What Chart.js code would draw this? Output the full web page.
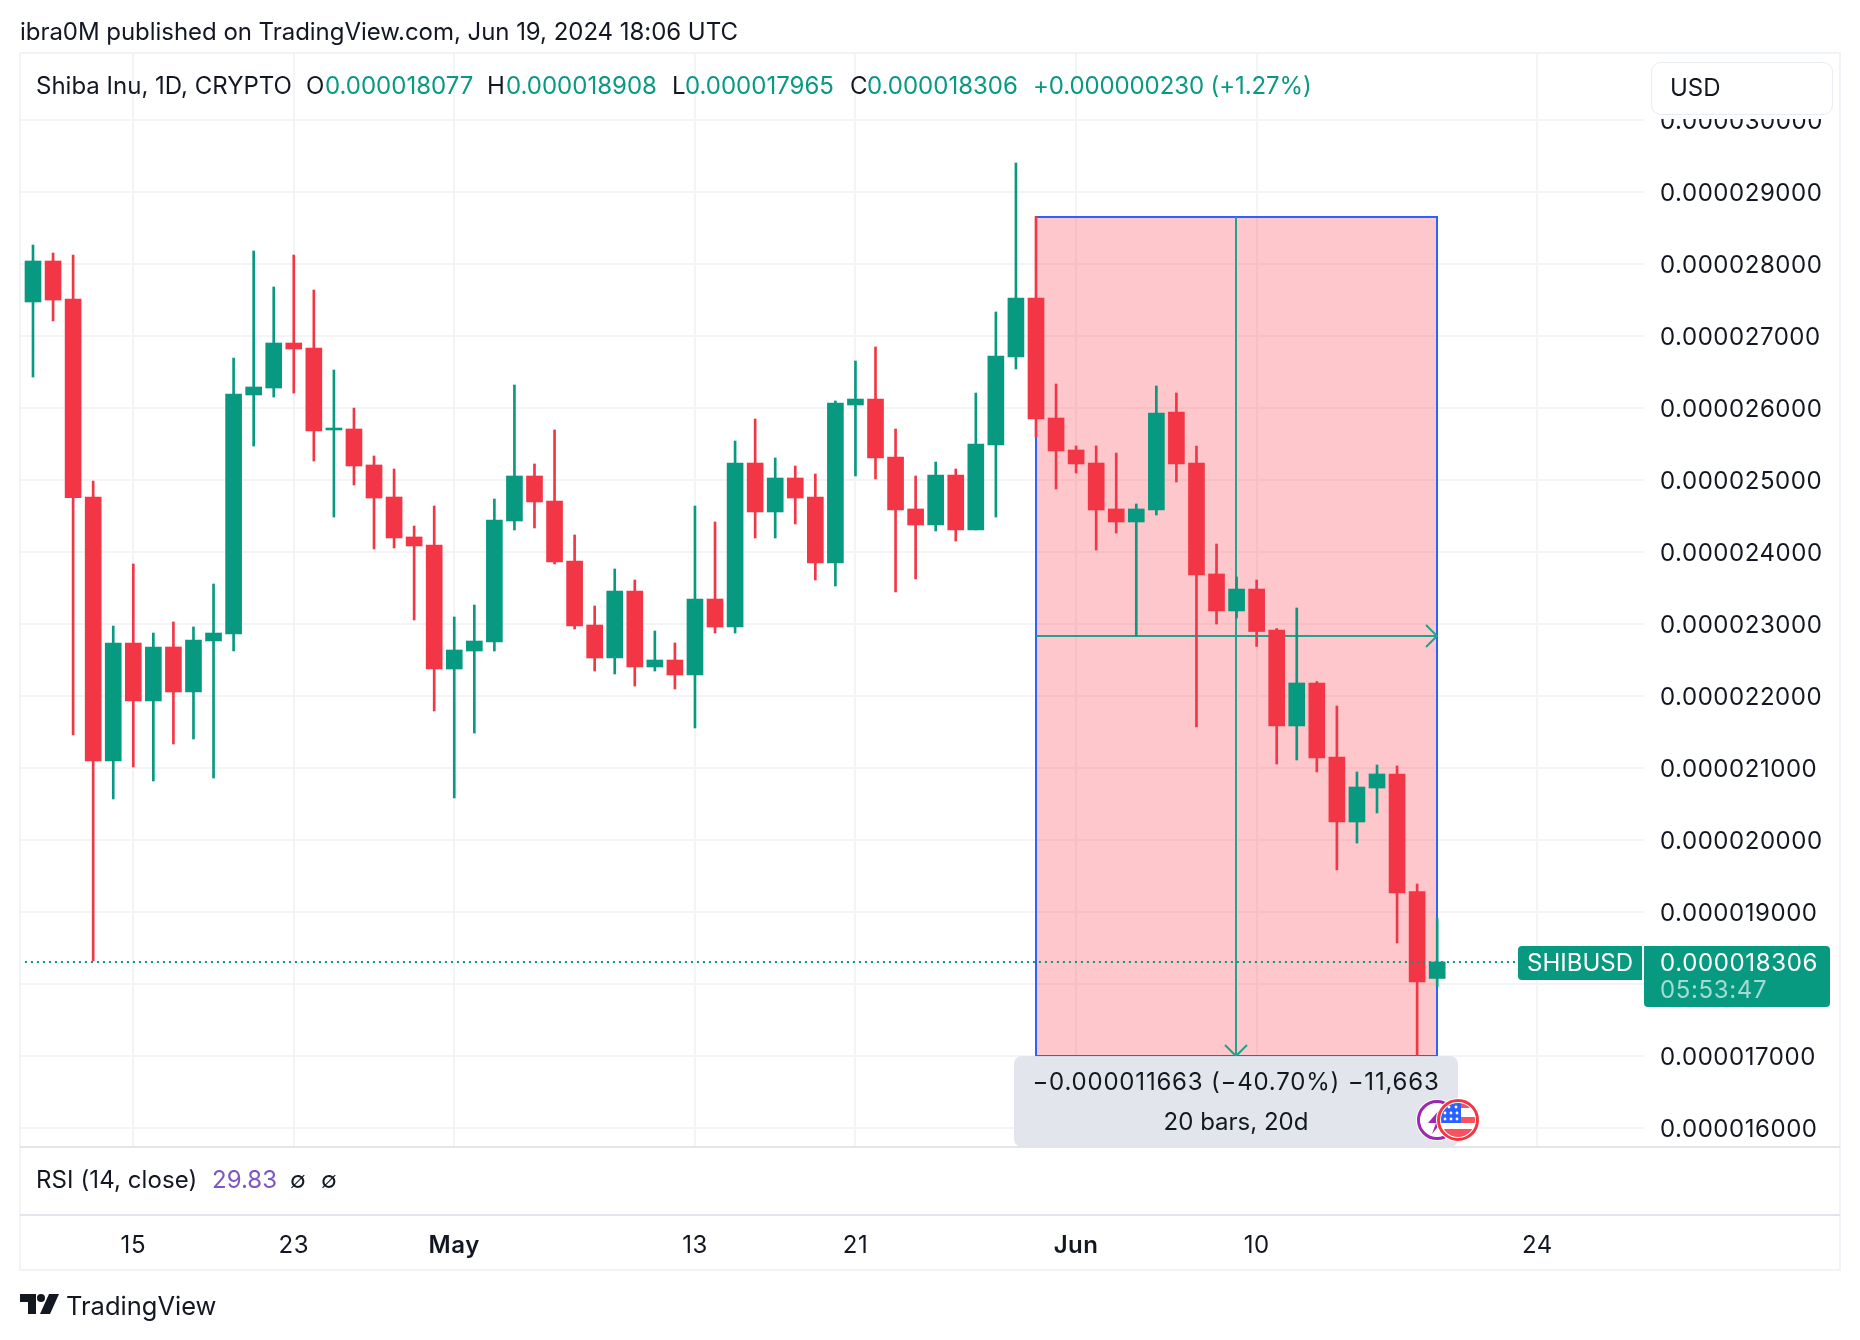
<!DOCTYPE html>
<html>
<head>
<meta charset="utf-8">
<title>SHIBUSD</title>
<script src="https://cdn.jsdelivr.net/npm/chart.js@4/dist/chart.umd.js"></script>
<style>
  html, body { margin: 0; padding: 0; background: #fff; }
  #page { position: relative; width: 1860px; height: 1340px; overflow: hidden; font-family: Inter, sans-serif; color: #131722; }
  #page canvas { position: absolute; left: 0; top: 0; }
  .txt { position: absolute; white-space: nowrap; line-height: 30px; font-size: 24px; }
  .up { color: #089981; }
  .wide { letter-spacing: 0.65px; }
  .rule { position: absolute; background: #e2e5eb; height: 2px; }
  #frame { position: absolute; left: 19px; top: 52px; width: 1818px; height: 1215px; border: 2px solid #f0f3f7; }
  #cover { position: absolute; left: 1645px; top: 55px; width: 192px; height: 64px; background: #fff; }
  #usd { position: absolute; left: 1651px; top: 62px; width: 180px; height: 51px; background: #fff; border: 1px solid #e9ecf2; border-radius: 10px; }
  #tag { position: absolute; left: 1518px; top: 946px; width: 124px; height: 34px; background: #089981; border-radius: 4px 0 0 4px; }
  #price { position: absolute; left: 1644px; top: 946px; width: 186px; height: 61px; background: #089981; border-radius: 0 4px 4px 4px; }
  #measure { position: absolute; left: 1014px; top: 1056px; width: 444px; height: 91px; background: rgba(224, 227, 235, 0.93); border-radius: 8px; }
  #measure div { position: absolute; left: 0; width: 100%; text-align: center; line-height: 30px; font-size: 24px; }
</style>
</head>
<body>
<div id="page">
  <canvas id="chart" width="1860" height="1340"></canvas>
  <div id="frame"></div>
  <div id="cover"></div>
  <div class="rule" style="left:20px;top:1146px;width:1820px"></div>
  <div class="rule" style="left:20px;top:1214px;width:1820px"></div>

  <div class="txt" style="left:20px;top:17px;letter-spacing:-0.04px">ibra0M published on TradingView.com, Jun 19, 2024 18:06 UTC</div>

  <div class="txt" style="left:36px;top:71px">Shiba Inu, 1D, CRYPTO</div>
  <div class="txt" style="left:306px;top:71px">O</div>
  <div class="txt up" style="left:325px;top:71px">0.000018077</div>
  <div class="txt" style="left:487px;top:71px">H</div>
  <div class="txt up" style="left:506px;top:71px">0.000018908</div>
  <div class="txt" style="left:672px;top:71px">L</div>
  <div class="txt up" style="left:685px;top:71px">0.000017965</div>
  <div class="txt" style="left:850px;top:71px">C</div>
  <div class="txt up" style="left:867px;top:71px">0.000018306</div>
  <div class="txt up" style="left:1033px;top:71px;letter-spacing:-0.1px">+0.000000230 (+1.27%)</div>

  <div id="usd"></div>
  <div class="txt" style="left:1670px;top:73px">USD</div>

  <div id="tag"></div>
  <div class="txt" style="left:1527px;top:948px;color:#fff">SHIBUSD</div>
  <div id="price"></div>
  <div class="txt wide" style="left:1660px;top:948px;color:#fff">0.000018306</div>
  <div class="txt wide" style="left:1660px;top:975px;color:#a3dcd2">05:53:47</div>

  <div id="measure">
    <div style="top:11px;letter-spacing:0.8px">−0.000011663 (−40.70%) −11,663</div>
    <div style="top:51px">20 bars, 20d</div>
  </div>

  <!-- event icons -->
  <svg style="position:absolute;left:1410px;top:1092px" width="76" height="56" viewBox="0 0 76 56">
    <defs><clipPath id="flagClip"><circle cx="48" cy="28" r="17"/></clipPath></defs>
    <circle cx="27" cy="28" r="21" fill="#fff"/>
    <circle cx="27" cy="28" r="18.5" fill="#fff" stroke="#9c27b0" stroke-width="3"/>
    <path d="M30 17 L18 31 L26 31 L22 42 L34 27 L27 27 Z" fill="#9c27b0"/>
    <circle cx="48" cy="28" r="22" fill="#fff"/>
    <circle cx="48" cy="28" r="19.5" fill="#fff" stroke="#f23645" stroke-width="3"/>
    <g clip-path="url(#flagClip)">
      <path d="M51 11 H66 V16 H51 Z M51 25 H66 V31 H51 Z M28 37 H68 V46 H28 Z" fill="#f7525f"/>
      <rect x="30" y="11" width="21" height="20" fill="#2962ff"/>
      <g fill="#fff">
        <circle cx="39" cy="15" r="1.4"/><circle cx="46" cy="15" r="1.4"/>
        <circle cx="35" cy="21" r="1.4"/><circle cx="41" cy="21" r="1.4"/><circle cx="47" cy="21" r="1.4"/>
        <circle cx="35" cy="27" r="1.4"/><circle cx="41" cy="27" r="1.4"/><circle cx="47" cy="27" r="1.4"/>
      </g>
    </g>
  </svg>

  <div class="txt" style="left:36px;top:1165px;letter-spacing:0.1px">RSI (14, close)</div>
  <div class="txt" style="left:212px;top:1165px;color:#7e57c2">29.83</div>
  <div class="txt" style="left:290px;top:1165px;font-size:23px">∅</div>
  <div class="txt" style="left:321px;top:1165px;font-size:23px">∅</div>

  <svg style="position:absolute;left:20px;top:1294px" width="40" height="20" viewBox="0 0 40 20">
    <path d="M0 0 H16 V20 H8 V8 H0 Z" fill="#131722"/>
    <circle cx="21" cy="4" r="4" fill="#131722"/>
    <path d="M29 0 H39 L30 20 H20 Z" fill="#131722"/>
  </svg>
  <div class="txt" style="left:66px;top:1291px;font-size:25.5px">TradingView</div>
</div>

<script>
// prices are in units of 0.000000001 USD, bar 0 is Apr 10
const opens = [27473, 28042, 27514, 24764, 21097, 22736, 21931, 22681, 22056, 22765,
    22861, 26181, 26278, 26903, 26834, 25695, 25709, 25209, 24764, 24209,
    24098, 22375, 22625, 22750, 24431, 25056, 24709, 23875, 22986, 22528,
    23459, 22403, 22500, 22292, 23347, 22958, 25236, 24556, 25028, 24764,
    23847, 26042, 26125, 25320, 24598, 24375, 25070, 24306, 25486, 26708,
    27528, 25861, 25417, 25236, 24598, 24417, 24584, 25945, 25236, 23695,
    23181, 23486, 22917, 21584, 22181, 21153, 20250, 20722, 20917, 19285, 18077];
const highs = [28264, 28153, 28125, 24986, 22972, 23834, 22875, 23028, 22959, 23556,
    26695, 28181, 27681, 28125, 27639, 26528, 25999, 25334, 25153, 24361,
    24639, 23098, 23264, 24736, 26320, 25223, 25695, 24236, 23250, 23764,
    23611, 22903, 22736, 24639, 24417, 25542, 25847, 25306, 25195, 25084,
    26098, 26653, 26848, 25709, 25056, 25250, 25153, 26208, 27334, 29403,
    28660, 26334, 25473, 25473, 25375, 24667, 26306, 26209, 25473, 24111,
    23653, 23611, 22938, 23223, 22202, 21861, 20945, 21042, 21028, 19389, 18908];
const lows = [26431, 27209, 21459, 18320, 20570, 21014, 20820, 21333, 21403, 20861,
    22625, 25472, 26153, 26208, 25264, 24486, 24931, 24042, 24056, 23056,
    21792, 20584, 21486, 22625, 24306, 24334, 23834, 22931, 22347, 22306,
    22139, 22347, 22097, 21556, 22875, 22875, 24195, 24195, 24389, 23611,
    23528, 25056, 25014, 23445, 23625, 24292, 24153, 24306, 24486, 26542,
    25598, 24875, 25097, 24028, 24264, 22834, 24514, 24973, 21570, 23000,
    23083, 22688, 21056, 21111, 20945, 19584, 19958, 20375, 18570, 16986, 17965];
const closes = [28042, 27500, 24754, 21097, 22736, 21931, 22681, 22056, 22778, 22875,
    26195, 26292, 26903, 26820, 25681, 25722, 25195, 24750, 24195, 24084,
    22375, 22639, 22764, 24445, 25056, 24695, 23861, 22972, 22528, 23459,
    22403, 22500, 22292, 23347, 22958, 25236, 24556, 25028, 24750, 23847,
    26070, 26125, 25306, 24584, 24375, 25070, 24306, 25500, 26723, 27528,
    25847, 25403, 25223, 24584, 24417, 24598, 25931, 25223, 23681, 23181,
    23486, 22896, 21584, 22181, 21139, 20250, 20736, 20917, 19264, 18028, 18306];

const dateTicks = [5, 13, 21, 33, 41, 52, 61, 75];
const dateLabels = ["15", "23", "May", "13", "21", "Jun", "10", "24"];
const boldLabels = ["May", "Jun"];
const priceTicks = [16000, 17000, 18000, 19000, 20000, 21000, 22000, 23000,
    24000, 25000, 26000, 27000, 28000, 29000, 30000];

const lastPrice = 18306;
const measureBars = [50, 70];
const measurePrices = [28660, 16997];

const UP = "#089981";
const DOWN = "#f23645";

const barColors = closes.map((c, i) => (c >= opens[i] ? UP : DOWN));

// ===== Measure tool, sits under the candles =====
const measureTool = {
    id: "measureTool",
    beforeDraw(chart) {
        // price labels in the reference run a little wider than plain Inter
        chart.ctx.letterSpacing = "0.55px";
    },
    beforeDatasetsDraw(chart) {
        const { ctx, scales } = chart;
        const x0 = Math.round(scales.x.getPixelForValue(measureBars[0]));
        const x1 = Math.round(scales.x.getPixelForValue(measureBars[1]));
        const y0 = Math.round(scales.y.getPixelForValue(measurePrices[0]));
        const y1 = Math.round(scales.y.getPixelForValue(measurePrices[1]));
        const xm = Math.floor((x0 + x1) / 2);
        const ym = Math.floor((y0 + y1) / 2);

        ctx.save();
        ctx.fillStyle = "rgba(250, 55, 70, 0.28)";
        ctx.fillRect(x0, y0, x1 - x0, y1 - y0);
        ctx.strokeStyle = "#2962ff";
        ctx.lineWidth = 2;
        ctx.strokeRect(x0, y0, x1 - x0, y1 - y0);

        ctx.strokeStyle = "#1fa38c";
        ctx.beginPath();
        ctx.moveTo(xm, y0);
        ctx.lineTo(xm, y1);
        ctx.moveTo(xm - 11, y1 - 11);
        ctx.lineTo(xm, y1);
        ctx.lineTo(xm + 11, y1 - 11);
        ctx.moveTo(x0, ym);
        ctx.lineTo(x1, ym);
        ctx.moveTo(x1 - 11, ym - 11);
        ctx.lineTo(x1, ym);
        ctx.lineTo(x1 - 11, ym + 11);
        ctx.stroke();
        ctx.restore();
    }
};

new Chart(document.getElementById("chart"), {
    type: "bar",
    data: {
        datasets: [
            {
                type: "line",
                data: [{ x: -1, y: lastPrice }, { x: 81, y: lastPrice }],
                borderColor: UP,
                borderWidth: 2,
                borderDash: [2, 4],
                pointRadius: 0,
                order: 0
            },
            {
                data: opens.map((o, i) => ({ x: i, y: [o, closes[i]] })),
                backgroundColor: barColors,
                barThickness: 16,
                grouped: false,
                order: 1
            },
            {
                data: lows.map((l, i) => ({ x: i, y: [l, highs[i]] })),
                backgroundColor: barColors,
                barThickness: 2,
                grouped: false,
                order: 2
            }
        ]
    },
    options: {
        responsive: false,
        animation: false,
        events: [],
        layout: { padding: { left: 20, top: 53, right: 0, bottom: 0 } },
        plugins: { legend: { display: false }, tooltip: { enabled: false } },
        scales: {
            x: {
                type: "linear",
                min: -0.648,
                max: 80.31,
                offset: false,
                grid: { color: "#f3f4f6", lineWidth: 2, drawTicks: false, offset: false },
                border: { display: false },
                afterFit(scale) { scale.height = 193; },
                afterBuildTicks(scale) {
                    scale.ticks = dateTicks.map(v => ({ value: v }));
                },
                ticks: {
                    maxRotation: 0,
                    autoSkip: false,
                    padding: 84,
                    color: "#131722",
                    font(ctx) {
                        const label = ctx.tick ? dateLabels[dateTicks.indexOf(ctx.tick.value)] : "";
                        return { family: "Inter", size: 24, weight: boldLabels.includes(label) ? "600" : "normal" };
                    },
                    callback(value) { return dateLabels[dateTicks.indexOf(value)]; }
                }
            },
            y: {
                position: "right",
                min: 15736,
                max: 30931,
                grid: { color: "#f3f4f6", lineWidth: 2, drawTicks: false },
                border: { display: false },
                afterFit(scale) { scale.width = 216; },
                afterBuildTicks(scale) {
                    scale.ticks = priceTicks.map(v => ({ value: v }));
                },
                ticks: {
                    padding: 16,
                    labelOffset: 2,
                    color: "#131722",
                    font: { family: "Inter", size: 24 },
                    callback(value) { return (value / 1e9).toFixed(9); }
                }
            }
        }
    },
    plugins: [measureTool]
});
</script>
</body>
</html>
